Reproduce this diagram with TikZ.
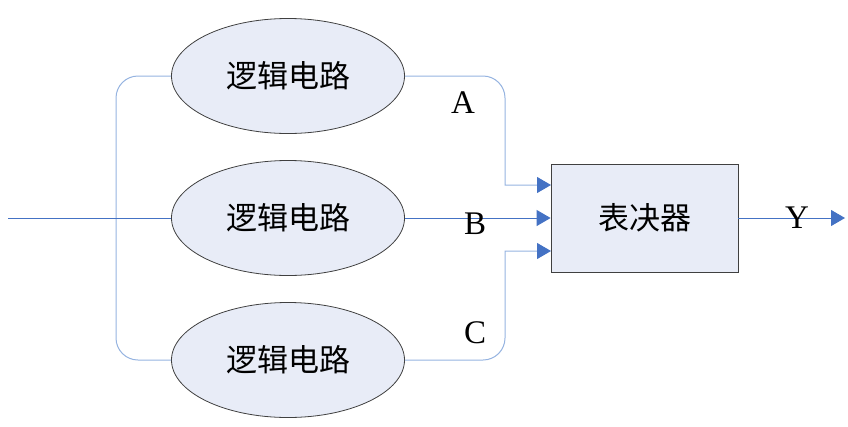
\documentclass[tikz,border=0pt]{standalone}
\usepackage{fontspec}
\setmainfont{Liberation Serif}
\newfontfamily\cjk{Noto Sans CJK SC}
\usetikzlibrary{shapes.geometric,arrows.meta}
\definecolor{diagline}{HTML}{4472C4}
\definecolor{diaglight}{HTML}{95B3E0}
\definecolor{diagfill}{HTML}{E8ECF7}
\definecolor{diagedge}{HTML}{404040}
\newcommand{\bigcjk}{\cjk\fontsize{31}{36}\selectfont}
\newcommand{\biglatin}{\fontsize{33}{38}\selectfont}
\tikzset{
  logicunit/.style={ellipse, draw=diagedge, line width=0.8pt, fill=diagfill,
    minimum width=233, minimum height=115, inner sep=0pt, font=\bigcjk},
  voterbox/.style={rectangle, draw=diagedge, line width=0.8pt, fill=diagfill,
    minimum width=187, minimum height=108, inner sep=0pt, font=\bigcjk},
  wire/.style={diagline, line width=1pt},
  softwire/.style={diaglight, line width=1pt},
  tip/.style={-{Triangle[length=14pt,width=16pt,color=diagline]}},
  sig/.style={font=\biglatin, inner sep=0pt}
}
\begin{document}
\begin{tikzpicture}[x=1pt, y=-1pt]
  \useasboundingbox (0,0) rectangle (848,426);

  \node[logicunit] (top) at (288,76) {逻辑电路};
  \node[logicunit] (mid) at (288,218) {逻辑电路};
  \node[logicunit] (bot) at (288,360) {逻辑电路};
  \node[voterbox] (vote) at (644.5,218) {表决器};

  \coordinate (in) at (8,218);
  \coordinate (split) at (116,218);
  \coordinate (ka) at (505,185);
  \coordinate (kc) at (505,251);
  \coordinate (ina) at (551,185);
  \coordinate (inc) at (551,251);
  \coordinate (out) at (845,218);

  \draw[softwire, rounded corners=22] (top.west) -| (split) |- (bot.west);
  \draw[wire] (in) -- (mid.west);

  \draw[softwire, tip] (top.east) [rounded corners=22] -- (top.east -| ka) [sharp corners] -- (ka) -- (ina);
  \draw[wire, tip] (mid.east) -- (vote.west);
  \draw[softwire, tip] (bot.east) [rounded corners=22] -- (bot.east -| kc) [sharp corners] -- (kc) -- (inc);
  \draw[wire, tip] (vote.east) -- (out);

  \node[sig] (la) at (463,103) {A};
  \node[sig] (lb) at (475,224) {B};
  \node[sig] (lc) at (475,333) {C};
  \node[sig] (ly) at (797,218) {Y};
\end{tikzpicture}
\end{document}
